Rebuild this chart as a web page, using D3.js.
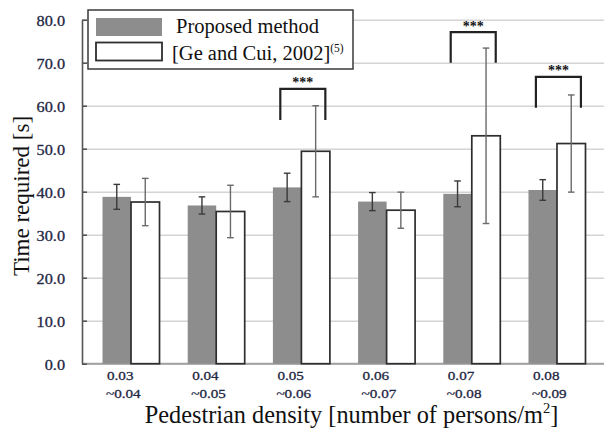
<!DOCTYPE html>
<html><head><meta charset="utf-8">
<script src="https://cdn.jsdelivr.net/npm/d3@7"></script>
<style>html,body{margin:0;padding:0;background:#fff;} svg{display:block;}</style>
</head><body>
<svg id="chart" width="609" height="430"></svg>
<script>
const categoriesTop = ["0.03","0.04","0.05","0.06","0.07","0.08"];
const categoriesBottom = ["~0.04","~0.05","~0.06","~0.07","~0.08","~0.09"];
const seriesNames = ["Proposed method","[Ge and Cui, 2002]"];
const proposedMean = [38.8, 36.8, 41.0, 37.7, 39.5, 40.4];
const proposedErr  = [2.9, 2.0, 3.3, 2.1, 3.0, 2.4];
const geCuiMean    = [37.6, 35.4, 49.4, 35.7, 53.0, 51.2];
const geCuiErr     = [5.5, 6.1, 10.6, 4.2, 20.4, 11.3];
const yTicks = [0,10,20,30,40,50,60,70,80];
const sigGroups = [2,4,5];
const sigTop    = [63.9, 77.1, 66.7];
const sigBottom = [56.7, 70.0, 59.5];
const sigLabel  = ["***","***","***"];

const svg = d3.select("#chart");
const serif = "'Liberation Serif','Times New Roman',serif";
const navy = "#1f2744";
const axisX = 82, plotRight = 604;

const y = d3.scaleLinear().domain([0,80]).range([363.7,19.7]);
const x0 = d3.scaleBand().domain(categoriesTop).range([83,605]).paddingInner(0.331).paddingOuter(0.229);
const x1 = d3.scaleBand().domain(seriesNames).range([0, x0.bandwidth()]);

// gridlines
svg.append("g").attr("transform",`translate(${axisX},0)`)
  .call(d3.axisRight(y).tickValues(yTicks).tickSize(plotRight-axisX).tickFormat(""))
  .call(g=>g.select(".domain").remove())
  .call(g=>g.selectAll(".tick line").attr("stroke","#d4d4d4").attr("stroke-width",1.6));

// bottom axis
const xAxisG = svg.append("g").attr("transform",`translate(0,${y(0)})`)
  .call(d3.axisBottom(x0).tickSize(0).tickSizeOuter(0).tickFormat(""));
xAxisG.select(".domain").attr("stroke","#a3a3a3").attr("stroke-width",2).attr("d",`M${axisX},0H${plotRight}`);
xAxisG.selectAll(".tick text").remove();
xAxisG.selectAll(".tick").each(function(d,i){
  const t = d3.select(this).append("text")
    .attr("fill",navy).attr("stroke",navy).attr("stroke-width",0.3)
    .attr("font-family",serif).attr("font-size",13.5)
    .attr("text-anchor","start");
  t.append("tspan").attr("x",-x0.bandwidth()/2+4.5).attr("y",16.5).text(categoriesTop[i]);
  t.append("tspan").attr("x",-x0.bandwidth()/2+3.5).attr("y",34.5).text(categoriesBottom[i]);
});
xAxisG.selectAll(".tick tspan").each(function(){
  const w = this.getComputedTextLength();
  d3.select(this).attr("textLength", w*1.12).attr("lengthAdjust","spacingAndGlyphs");
});

// left axis
const yAxisG = svg.append("g").attr("transform",`translate(${axisX},0)`)
  .call(d3.axisLeft(y).tickValues(yTicks).tickFormat(d3.format(".1f")).tickSizeInner(-5).tickSizeOuter(0));
yAxisG.select(".domain").attr("stroke","#555").attr("stroke-width",1.6);
yAxisG.selectAll(".tick line").attr("stroke","#555").attr("stroke-width",1.6);
yAxisG.selectAll(".tick text").attr("x",-17).attr("fill",navy).attr("stroke",navy).attr("stroke-width",0.3)
  .attr("font-family",serif).attr("font-size",14.5).attr("text-anchor","end").attr("dy","0.42em")
  .each(function(){
    const w = this.getComputedTextLength();
    d3.select(this).attr("textLength", w*1.12).attr("lengthAdjust","spacingAndGlyphs");
  });

// bars
const groups = categoriesTop.map((c,i)=>({
  cat:c,
  items:[
    {s:seriesNames[0], v:proposedMean[i], e:proposedErr[i]},
    {s:seriesNames[1], v:geCuiMean[i], e:geCuiErr[i]}
  ]
}));
const gG = svg.append("g").selectAll("g.grp").data(groups).join("g")
  .attr("class","grp").attr("transform",d=>`translate(${x0(d.cat)},0)`);
gG.selectAll("rect").data(d=>d.items).join("rect")
  .attr("x",d=>x1(d.s)).attr("width",x1.bandwidth())
  .attr("y",d=>y(d.v)).attr("height",d=>y(0)-y(d.v))
  .attr("fill",(d,i)=>i===0?"#8d8d8d":"#fff")
  .attr("stroke",(d,i)=>i===0?"none":"#2e2e2e")
  .attr("stroke-width",1.7);

// error bars
const eb = gG.selectAll("g.eb").data(d=>d.items).join("g").attr("class","eb")
  .attr("stroke",(d,i)=>i===0?"#3a3a3a":"#6a6a6a").attr("stroke-width",1.4);
const cx = d=>x1(d.s)+x1.bandwidth()/2;
eb.append("line").attr("x1",cx).attr("x2",cx).attr("y1",d=>y(d.v+d.e)).attr("y2",d=>y(d.v-d.e));
eb.append("line").attr("x1",d=>cx(d)-3.3).attr("x2",d=>cx(d)+3.3).attr("y1",d=>y(d.v+d.e)).attr("y2",d=>y(d.v+d.e));
eb.append("line").attr("x1",d=>cx(d)-3.3).attr("x2",d=>cx(d)+3.3).attr("y1",d=>y(d.v-d.e)).attr("y2",d=>y(d.v-d.e));

// significance brackets
sigGroups.forEach((gi,k)=>{
  const c = x0(categoriesTop[gi]) + x0.bandwidth()/2;
  const xl = c - x0.bandwidth()*0.37, xr = c + x0.bandwidth()*0.42;
  const yt = y(sigTop[k]), yb = y(sigBottom[k]);
  svg.append("path").attr("d",`M${xl},${yb}V${yt}H${xr}V${yb}`)
    .attr("fill","none").attr("stroke","#222").attr("stroke-width",2.2);
  svg.append("text").attr("x",(xl+xr)/2).attr("y",yt-1.5)
    .attr("text-anchor","middle").attr("font-family",serif).attr("font-weight","bold")
    .attr("font-size",14).attr("fill","#111").text(sigLabel[k]);
});

// legend
const lg = svg.append("g");
lg.append("rect").attr("x",88).attr("y",10).attr("width",265).attr("height",59)
  .attr("fill","#fff").attr("stroke","#3a3a3a").attr("stroke-width",1.5);
lg.append("rect").attr("x",96).attr("y",18).attr("width",66).attr("height",18).attr("fill","#8d8d8d");
lg.append("rect").attr("x",96).attr("y",42.5).attr("width",66).attr("height",18)
  .attr("fill","#fff").attr("stroke","#2e2e2e").attr("stroke-width",1.8);
lg.append("text").attr("x",176).attr("y",33).attr("font-family",serif).attr("font-size",20.5)
  .attr("fill","#111").text(seriesNames[0]);
const t2 = lg.append("text").attr("x",172).attr("y",59.5).attr("font-family",serif).attr("font-size",20.5)
  .attr("fill","#111");
t2.append("tspan").text(seriesNames[1]);
t2.append("tspan").attr("font-size",11.5).attr("dy",-8).text("(5)");

// axis titles
svg.append("text").attr("transform","translate(29,196) rotate(-90)")
  .attr("text-anchor","middle").attr("font-family",serif).attr("font-size",23)
  .attr("fill","#111").text("Time required [s]");
const xt = svg.append("text").attr("x",351.5).attr("y",423)
  .attr("text-anchor","middle").attr("font-family",serif).attr("font-size",24.3).attr("fill","#111");
xt.append("tspan").text("Pedestrian density [number of persons/m");
xt.append("tspan").attr("font-size",14.5).attr("dy",-10).text("2");
xt.append("tspan").attr("dy",10).text("]");
</script>
</body></html>
